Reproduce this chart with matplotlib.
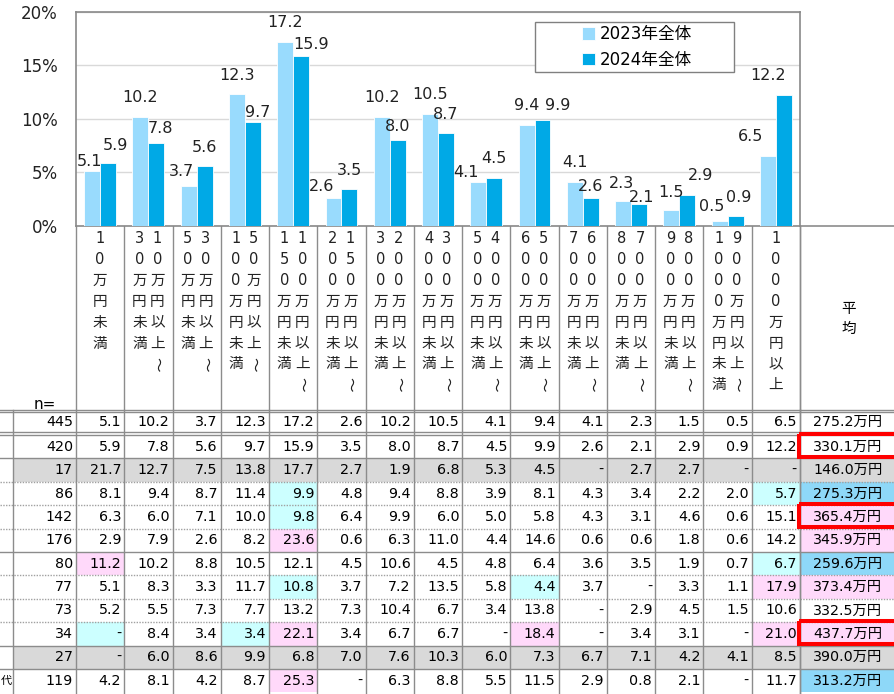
import numpy as np
import matplotlib
matplotlib.use('Agg')
import matplotlib.pyplot as plt
from matplotlib.patches import Rectangle

plt.rcParams['font.family'] = ['DejaVu Sans', 'Noto Sans CJK JP']

# ---- data ----
categories = [
    '10万円未満', '10万円以上〜30万円未満', '30万円以上〜50万円未満',
    '50万円以上〜100万円未満', '100万円以上〜150万円未満', '150万円以上〜200万円未満',
    '200万円以上〜300万円未満', '300万円以上〜400万円未満', '400万円以上〜500万円未満',
    '500万円以上〜600万円未満', '600万円以上〜700万円未満', '700万円以上〜800万円未満',
    '800万円以上〜900万円未満', '900万円以上〜1000万円未満', '1000万円以上',
]
share_2023 = [5.1, 10.2, 3.7, 12.3, 17.2, 2.6, 10.2, 10.5, 4.1, 9.4, 4.1, 2.3, 1.5, 0.5, 6.5]
share_2024 = [5.9, 7.8, 5.6, 9.7, 15.9, 3.5, 8.0, 8.7, 4.5, 9.9, 2.6, 2.1, 2.9, 0.9, 12.2]
series_names = ['2023年全体', '2024年全体']
y_ticks = [0, 5, 10, 15, 20]
y_tick_labels = ['0%', '5%', '10%', '15%', '20%']

n_counts = [445, 420, 17, 86, 142, 176, 80, 77, 73, 34, 27, 119]
avg_income = [275.2, 330.1, 146.0, 275.3, 365.4, 345.9, 259.6, 373.4, 332.5, 437.7, 390.0, 313.2]
# segment rows (None = '-')
seg_rows = [
    [21.7, 12.7, 7.5, 13.8, 17.7, 2.7, 1.9, 6.8, 5.3, 4.5, None, 2.7, 2.7, None, None],
    [8.1, 9.4, 8.7, 11.4, 9.9, 4.8, 9.4, 8.8, 3.9, 8.1, 4.3, 3.4, 2.2, 2.0, 5.7],
    [6.3, 6.0, 7.1, 10.0, 9.8, 6.4, 9.9, 6.0, 5.0, 5.8, 4.3, 3.1, 4.6, 0.6, 15.1],
    [2.9, 7.9, 2.6, 8.2, 23.6, 0.6, 6.3, 11.0, 4.4, 14.6, 0.6, 0.6, 1.8, 0.6, 14.2],
    [11.2, 10.2, 8.8, 10.5, 12.1, 4.5, 10.6, 4.5, 4.8, 6.4, 3.6, 3.5, 1.9, 0.7, 6.7],
    [5.1, 8.3, 3.3, 11.7, 10.8, 3.7, 7.2, 13.5, 5.8, 4.4, 3.7, None, 3.3, 1.1, 17.9],
    [5.2, 5.5, 7.3, 7.7, 13.2, 7.3, 10.4, 6.7, 3.4, 13.8, None, 2.9, 4.5, 1.5, 10.6],
    [None, 8.4, 3.4, 3.4, 22.1, 3.4, 6.7, 6.7, None, 18.4, None, 3.4, 3.1, None, 21.0],
    [None, 6.0, 8.6, 9.9, 6.8, 7.0, 7.6, 10.3, 6.0, 7.3, 6.7, 7.1, 4.2, 4.1, 8.5],
    [4.2, 8.1, 4.2, 8.7, 25.3, None, 6.3, 8.8, 5.5, 11.5, 2.9, 0.8, 2.1, None, 11.7],
]
table_rows = [share_2023, share_2024] + seg_rows

# cell highlights (row, col); col 15 = average column
low_cells = [(3, 4), (4, 4), (3, 14), (7, 4), (7, 9), (9, 0), (9, 3), (6, 14)]
high_cells = [(5, 4), (6, 0), (9, 4), (7, 14), (9, 9), (9, 14), (11, 4)]
avg_low_rows = [3, 6, 11]
avg_high_rows = [4, 5, 7, 9]
gray_rows = [2, 10]
boxed_rows = [1, 4, 9]

# label nudges in pixels (dx, gap above bar)
nudge_2023 = [(-3, 5), (0, 15), (-7, 10), (0, 14), (0, 15), (-12, 7), (0, 15), (0, 15),
              (-12, 5), (0, 15), (0, 15), (-2, 13), (0, 13), (-8, 10), (-17, 15)]
nudge_2024 = [(7, 13), (4, 10), (0, 14), (5, 5), (10, 7), (0, 14), (0, 9), (0, 14),
              (0, 15), (15, 10), (0, 7), (3, 2), (13, 15), (3, 14), (-16, 15)]

LIGHT = '#99DBFD'
DARK = '#00A9E6'
GRID = '#8C8C8C'
CYAN = '#CCFFFF'
PINK = '#FFD9FA'
BLUE = '#8ED8F8'
GRAYROW = '#D9D9D9'

W, H = 895, 694
fig = plt.figure(figsize=(W / 100, H / 100), dpi=100)

X0, X1 = 76, 800
slot = (X1 - X0) / 15
Y_TOP, Y_ZERO = 12, 226

# ---- table / header layer (pixel coordinates) ----
tab = fig.add_axes([0, 0, 1, 1], zorder=0)
tab.set_xlim(0, W)
tab.set_ylim(H, 0)
tab.axis('off')

col_left = [13, X0] + [X0 + slot * k for k in range(1, 16)]
col_right = col_left[1:] + [W + 5]

row_top = [412] + [435 + 23.4 * k for k in range(11)]
row_bot = [432] + [435 + 23.4 * (k + 1) for k in range(11)]

# header vertical dividers
for k in range(16):
    xe = X0 + slot * k
    tab.plot([xe, xe], [Y_ZERO, 410], color=GRID, lw=1)
tab.plot([X1, X1], [Y_ZERO, 410], color=GRID, lw=1)
tab.plot([X1, W], [Y_ZERO, Y_ZERO], color=GRID, lw=1.2)

# header labels (vertical text)
CH_Y0, CH_STEP = 238.5, 20.9


def vcol(text, xc):
    for j, ch in enumerate(text):
        rot = -90 if ch == '〜' else 0
        tab.text(xc, CH_Y0 + CH_STEP * j, ch, ha='center', va='center',
                 fontsize=10.5, rotation=rot, color='#222222')


for i, cat in enumerate(categories):
    xc = X0 + slot * (i + 0.5)
    if '〜' in cat:
        first, second = cat.split('〜')
        vcol(first + '〜', xc + 9)
        vcol(second, xc - 9)
    else:
        vcol(cat, xc)

tab.text(849, 308, '平', ha='center', va='center', fontsize=10.5)
tab.text(849, 328, '均', ha='center', va='center', fontsize=10.5)
tab.text(45, 404, 'n=', ha='center', va='center', fontsize=11)

# cell fills
for r in gray_rows:
    tab.add_patch(Rectangle((13, row_top[r]), W - 13, row_bot[r] - row_top[r],
                            color=GRAYROW, lw=0, zorder=1))
for r, c in low_cells:
    tab.add_patch(Rectangle((col_left[c + 1], row_top[r]), slot, row_bot[r] - row_top[r],
                            color=CYAN, lw=0, zorder=1))
for r, c in high_cells:
    tab.add_patch(Rectangle((col_left[c + 1], row_top[r]), slot, row_bot[r] - row_top[r],
                            color=PINK, lw=0, zorder=1))
for r in avg_low_rows:
    tab.add_patch(Rectangle((X1, row_top[r]), W - X1, row_bot[r] - row_top[r],
                            color=BLUE, lw=0, zorder=1))
for r in avg_high_rows:
    tab.add_patch(Rectangle((X1, row_top[r]), W - X1, row_bot[r] - row_top[r],
                            color=PINK, lw=0, zorder=1))

# horizontal rules
for yy in [409.5, 412, 432, 435]:
    tab.plot([0, W], [yy, yy], color=GRID, lw=1, zorder=2)
solid_after = [1, 5, 9, 10]
for r in range(1, 11):
    yy = row_bot[r]
    if r in solid_after:
        tab.plot([0, W], [yy, yy], color=GRID, lw=1, zorder=2)
    else:
        tab.plot([0, W], [yy, yy], color='#A0A0A0', lw=1, ls=(0, (1, 1)), zorder=2)

# vertical rules in table
for xe in col_left + [X1]:
    tab.plot([xe, xe], [409.5, H], color=GRID, lw=1, zorder=2)

# cell text
for r in range(12):
    yc = (row_top[r] + row_bot[r]) / 2
    tab.text(73, yc, str(n_counts[r]), ha='right', va='center', fontsize=10.3, zorder=3)
    for c, v in enumerate(table_rows[r]):
        s = '-' if v is None else f'{v:.1f}'
        tab.text(col_right[c + 1] - 3, yc, s, ha='right', va='center', fontsize=10.3, zorder=3)
    tab.text(813, yc, f'{avg_income[r]:.1f}万円', ha='left', va='center', fontsize=10.3, zorder=3)
tab.text(0.5, (row_top[11] + row_bot[11]) / 2, '代', ha='left', va='center', fontsize=8)

for r in boxed_rows:
    tab.add_patch(Rectangle((799, row_top[r] - 1.5), 110, row_bot[r] - row_top[r],
                            fill=False, edgecolor='#FF0000', lw=2.9, zorder=4))

# ---- bar chart ----
ax = fig.add_axes([X0 / W, 1 - Y_ZERO / H, (X1 - X0) / W, (Y_ZERO - Y_TOP) / H], zorder=1)
x = np.arange(len(categories))
bw = 0.33
bars1 = ax.bar(x - bw / 2, share_2023, bw, color=LIGHT, edgecolor='white', lw=0.6,
               label=series_names[0], zorder=3)
bars2 = ax.bar(x + bw / 2, share_2024, bw, color=DARK, edgecolor='white', lw=0.6,
               label=series_names[1], zorder=3)

for xs, vals, nudges in [(x - bw / 2, share_2023, nudge_2023), (x + bw / 2, share_2024, nudge_2024)]:
    for xi, v, (dx, dy) in zip(xs, vals, nudges):
        ax.annotate(f'{v:.1f}', (xi, v), xytext=(dx * 0.72, dy * 0.72),
                    textcoords='offset points', ha='center', va='baseline',
                    fontsize=11.5, color='#222222', zorder=5)

ax.set_xlim(-0.5, len(categories) - 0.5)
ax.set_ylim(0, 20)
ax.set_yticks(y_ticks)
ax.set_yticklabels(y_tick_labels, fontsize=12, color='#222222')
ax.set_xticks([])
ax.tick_params(axis='y', length=0, pad=13)
ax.grid(axis='y', color='#D9D9D9', lw=1, zorder=0)
for sp in ax.spines.values():
    sp.set_color('#898989')
    sp.set_linewidth(1.2)

ax.add_patch(Rectangle((535 / W, 1 - 72 / H), 199 / W, 50 / H, transform=fig.transFigure,
                       facecolor='white', edgecolor='#808080', lw=1, zorder=6, clip_on=False))
leg = ax.legend(loc='center', bbox_to_anchor=(637 / W, 1 - 47 / H), bbox_transform=fig.transFigure,
                frameon=False, fontsize=12, handlelength=0.75, handleheight=0.75,
                handletextpad=0.3, labelspacing=0.45)
leg.set_zorder(7)

fig.savefig('out.png', dpi=100)
